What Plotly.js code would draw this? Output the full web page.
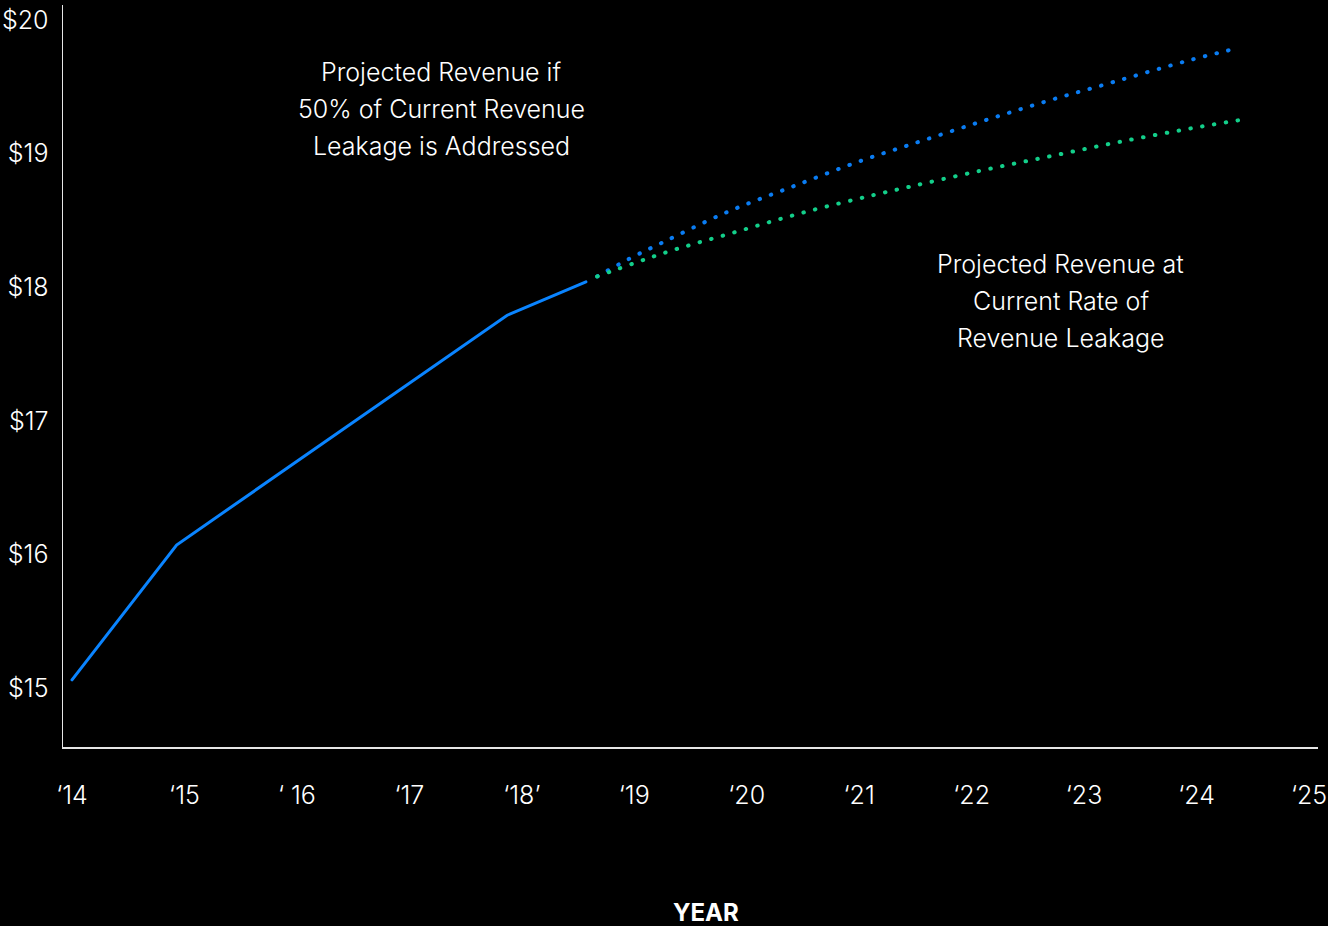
<!DOCTYPE html>
<html>
<head>
<meta charset="utf-8">
<script src="https://cdn.plot.ly/plotly-3.0.1.min.js"></script>
<style>
html,body{margin:0;padding:0;background:#000;}
#chart{width:1328px;height:926px;}
#chart .scatterlayer .js-line{stroke-linecap:round;}
</style>
</head>
<body>
<div id="chart"></div>
<script>
// Actual revenue (solid)
const actualYears = [2014.0, 2014.93, 2017.87, 2018.57];
const actualValues = [15.06, 16.07, 17.79, 18.04];

// Projected revenue if 50% of leakage addressed (blue dotted)
const addressedYears = [2018.67, 2018.95, 2019.24, 2019.82, 2020.43, 2021.03, 2021.43, 2022.05, 2022.66, 2023.28, 2023.90, 2024.32];
const addressedValues = [18.08, 18.21, 18.33, 18.56, 18.76, 18.95, 19.06, 19.23, 19.39, 19.54, 19.69, 19.78];

// Projected revenue at current leakage rate (green dotted)
const currentYears = [2018.67, 2019.28, 2019.89, 2020.51, 2021.13, 2021.44, 2022.07, 2022.70, 2023.33, 2023.96, 2024.38];
const currentValues = [18.08, 18.26, 18.41, 18.56, 18.69, 18.75, 18.87, 18.98, 19.09, 19.19, 19.25];

// Axis ticks
const xTickVals = [2014, 2015, 2016, 2017, 2018, 2019, 2020, 2021, 2022, 2023, 2024, 2025];
const xTickText = ["\u201814", "\u201815", "\u2018 16", "\u201817", "\u201818\u2019", "\u201819", "\u201820", "\u201821", "\u201822", "\u201823", "\u201824", "\u201825"];
const yTickVals = [15, 16, 17, 18, 19, 20];
const yTickText = ["$15", "$16", "$17", "$18", "$19", "$20"];

// Labels
const addressedLabel = ["Projected Revenue if", "50% of Current Revenue", "Leakage is Addressed"];
const currentLabel = ["Projected Revenue at", "Current Rate of", "Revenue Leakage"];
const xTitle = "YEAR";

const FONT = "Inter, 'Open Sans', sans-serif";
const textFont = {family: FONT, size: 25, color: '#ffffff', weight: 300};

const traces = [
  {x: actualYears, y: actualValues, mode: 'lines', type: 'scatter',
   line: {color: '#0a84ff', width: 3}, hoverinfo: 'skip'},
  {x: addressedYears, y: addressedValues, mode: 'lines', type: 'scatter',
   line: {color: '#0a7cf2', width: 4, dash: '0.5px,11.5px', shape: 'spline'}, hoverinfo: 'skip'},
  {x: currentYears, y: currentValues, mode: 'lines', type: 'scatter',
   line: {color: '#13cf8a', width: 4, dash: '0.5px,11.5px', shape: 'spline'}, hoverinfo: 'skip'}
];

const annotations = [];
const lineYs1 = [0.9097, 0.8598, 0.8100];
addressedLabel.forEach((t, i) => annotations.push({
  text: t, xref: 'paper', yref: 'paper', x: 0.3012, y: lineYs1[i],
  xanchor: 'center', yanchor: 'middle', showarrow: false, font: textFont
}));
const lineYs2 = [0.6509, 0.6011, 0.5512];
currentLabel.forEach((t, i) => annotations.push({
  text: t, xref: 'paper', yref: 'paper', x: 0.7952, y: lineYs2[i],
  xanchor: 'center', yanchor: 'middle', showarrow: false, font: textFont
}));
annotations.push({
  text: '<b>' + xTitle + '</b>', xref: 'paper', yref: 'paper', x: 0.5124, y: -0.2224,
  xanchor: 'center', yanchor: 'middle', showarrow: false,
  font: {family: FONT, size: 24, color: '#ffffff'}
});

const layout = {
  width: 1328, height: 926,
  paper_bgcolor: '#000000', plot_bgcolor: '#000000',
  margin: {l: 63, r: 10, t: 5, b: 179},
  showlegend: false,
  font: {family: FONT, color: '#ffffff', size: 24},
  xaxis: {
    range: [2013.92, 2025.08], showgrid: false, zeroline: false,
    showline: true, linecolor: '#e6e6e6', linewidth: 1.5,
    tickvals: xTickVals, ticktext: xTickText, ticks: '',
    ticklabelstandoff: 25,
    tickfont: textFont
  },
  yaxis: {
    range: [14.558, 20.112], showgrid: false, zeroline: false,
    showline: true, linecolor: '#e6e6e6', linewidth: 1.5,
    tickvals: yTickVals, ticktext: yTickText, ticks: '',
    ticklabelstandoff: 8,
    tickfont: textFont
  },
  annotations: annotations
};

Plotly.newPlot('chart', traces, layout, {displayModeBar: false, staticPlot: true});
</script>
</body>
</html>
